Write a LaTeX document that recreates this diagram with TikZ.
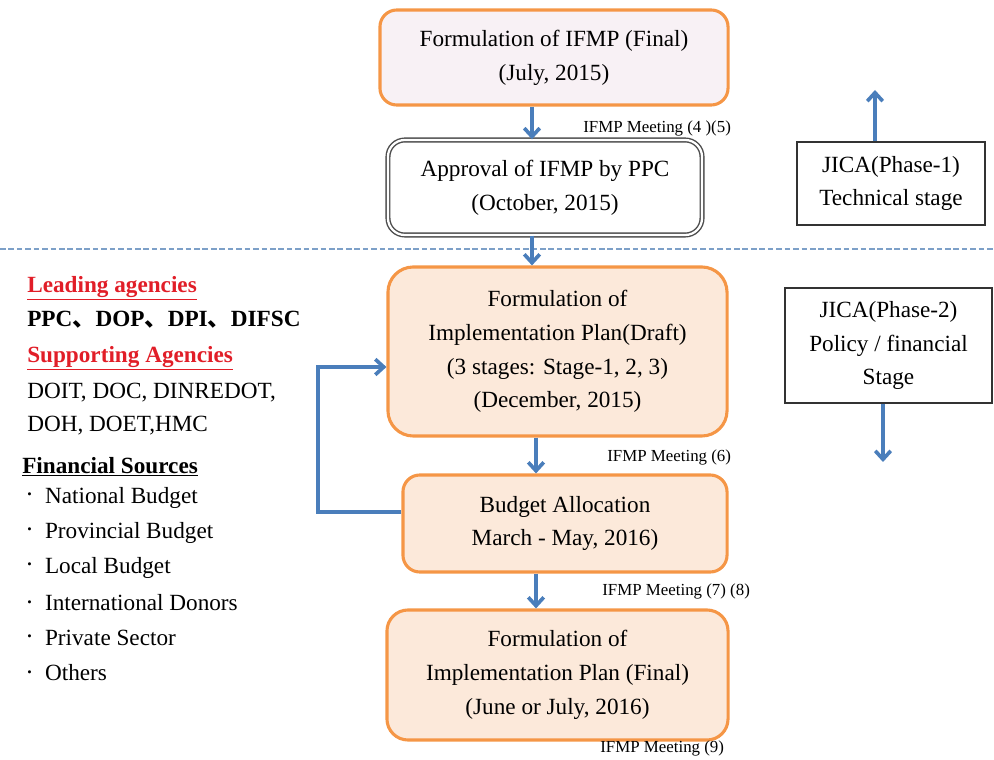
\documentclass[tikz,border=0pt]{standalone}
\usepackage{fontspec}
\setmainfont{Liberation Serif}
\newfontfamily\cjk{Noto Sans CJK JP}
\usepackage{tikz}
\usetikzlibrary{
    arrows.meta,
    positioning
}
\definecolor{boxorange}{RGB}{245,150,70}
\definecolor{peach}{RGB}{252,233,218}
\definecolor{lilac}{RGB}{248,241,245}
\definecolor{flowblue}{RGB}{74,126,187}
\definecolor{dashblue}{RGB}{125,160,200}
\definecolor{headred}{RGB}{225,30,40}
\newcommand{\boxfont}{\fontsize{16.5}{24}\selectfont}
\newcommand{\meetfont}{\fontsize{12}{14}\selectfont}
\newcommand{\srcdot}{\raisebox{0.45ex}{\fontsize{9}{9}\selectfont •}}
\tikzset{stepbox/.style={rounded corners=12pt, draw=boxorange, line width=2.2pt, fill=peach, align=center, font=\boxfont, inner sep=0pt}}
\tikzset{approvebox/.style={rounded corners=12pt, draw=black!70, double=white, double distance=1.6pt, line width=1pt, fill=white, align=center, font=\boxfont, inner sep=0pt}}
\tikzset{jicabox/.style={draw=black!80, line width=0.8pt, fill=white, align=center, font=\boxfont, inner sep=0pt}}
\tikzset{flow/.style={->, draw=flowblue, line width=2.6pt}}
\tikzset{dashline/.style={draw=dashblue, dash pattern=on 4pt off 2pt, line width=0.8pt}}
\tikzset{meet/.style={anchor=west, inner sep=0pt, font=\meetfont}}
\tikzset{lefttext/.style={anchor=west, inner sep=0pt, font=\boxfont}}

\begin{document}
\begin{tikzpicture}[x=0.025cm, y=-0.025cm, >={Straight Barb[length=6pt, width=11pt]}]
    \useasboundingbox (0,0) rectangle (994,760);
    \draw[dashline] (0,249) -- (994,249);
    % main flow
    \node[stepbox, fill=lilac, minimum width=8.7cm, minimum height=2.375cm] (ifmp) at (554,57.5) {Formulation of IFMP (Final)\\(July, 2015)};
    \node[approvebox, minimum width=7.85cm, minimum height=2.375cm] (ppc) at (545,187.5) {Approval of IFMP by PPC\\(October, 2015)};
    \node[stepbox, rounded corners=18pt, minimum width=8.475cm, minimum height=4.225cm] (draft) at (557.5,351.5) {Formulation of\\Implementation Plan(Draft)\\(3 stages: Stage-1, 2, 3)\\(December, 2015)};
    \node[stepbox, minimum width=8.1cm, minimum height=2.425cm] (budget) at (565,523.5) {Budget Allocation\\March - May, 2016)};
    \node[stepbox, rounded corners=15pt, minimum width=8.525cm, minimum height=3.25cm] (final) at (557.5,675) {Formulation of\\Implementation Plan (Final)\\(June or July, 2016)};
    % JICA phases
    \node[jicabox, minimum width=4.7cm, minimum height=2.075cm] (phase1) at (891,183.5) {JICA(Phase-1)\\Technical stage};
    \node[jicabox, minimum width=5.175cm, minimum height=2.875cm] (phase2) at (888.5,345.5) {JICA(Phase-2)\\Policy / financial\\Stage};
    \coordinate (up1) at (875,90);
    \coordinate (down2) at (883,462);
    \coordinate (col) at (532,0);
    \coordinate (col2) at (536,0);
    \coordinate (loop) at (318,367);
    \coordinate (loopbot) at (318,512);
    \draw[flow] (ifmp.south -| col) -- (ppc.north -| col);
    \draw[flow] (ppc.south -| col) -- (draft.north -| col);
    \draw[flow] (draft.south -| col2) -- (budget.north -| col2);
    \draw[flow] (budget.south -| col2) -- (final.north -| col2);
    \draw[flow] (budget.west |- loopbot) -- (loopbot) -- (loop) -- (draft.west |- loop);
    \draw[flow] (phase1.north -| up1) -- (up1);
    \draw[flow] (phase2.south -| down2) -- (down2);
    % meetings
    \node[meet] (m45) at (583,128) {IFMP Meeting (4 )(5)};
    \node[meet] (m6) at (607,457) {IFMP Meeting (6)};
    \node[meet] (m78) at (602,591) {IFMP Meeting (7) (8)};
    \node[meet] (m9) at (600,748) {IFMP Meeting (9)};
    % agencies and sources
    \node[lefttext, text=headred, font=\boxfont\bfseries] (lead) at (27,288) {\underline{Leading agencies}};
    \node[lefttext, font=\boxfont\bfseries] (leadlist) at (27,320) {PPC{\cjk 、}DOP{\cjk 、}DPI{\cjk 、}DIFSC};
    \node[lefttext, text=headred, font=\boxfont\bfseries] (support) at (27,358) {\underline{Supporting Agencies}};
    \node[lefttext] (supp1) at (27,393) {DOIT, DOC, DINREDOT,};
    \node[lefttext] (supp2) at (27,426) {DOH, DOET,HMC};
    \node[lefttext, font=\boxfont\bfseries] (fin) at (22,467) {\underline{Financial Sources}};
    \foreach \src [count=\i] in {National Budget, Provincial Budget, Local Budget, International Donors, Private Sector, Others}
        \node[lefttext] (src\i) at (27,463+35*\i) {\srcdot\hspace{9.5pt}\src};
\end{tikzpicture}
\end{document}
